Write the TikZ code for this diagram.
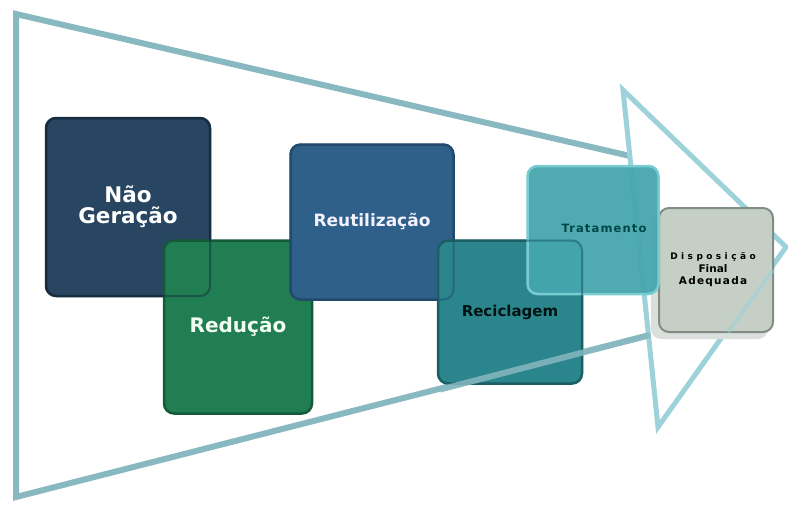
\documentclass[tikz,border=0pt]{standalone}
\usepackage{fontspec}
\setmainfont{DejaVu Sans}
\definecolor{arrowgray}{HTML}{88B8C0}
\definecolor{headcyan}{HTML}{9ED2DA}
\definecolor{ngfill}{HTML}{284661}
\definecolor{ngline}{HTML}{172C3F}
\definecolor{rdfill}{HTML}{207E52}
\definecolor{rdline}{HTML}{175A3A}
\definecolor{rufill}{HTML}{2F6089}
\definecolor{ruline}{HTML}{224A6E}
\definecolor{rcfill}{HTML}{2A868C}
\definecolor{rcline}{HTML}{1B5F65}
\definecolor{trfill}{HTML}{46A6AE}
\definecolor{trline}{HTML}{78CCD2}
\definecolor{dpfill}{HTML}{C5CFC6}
\definecolor{dpline}{HTML}{818C86}
\definecolor{dpshadow}{HTML}{DADFDC}
\begin{document}
\begin{tikzpicture}[x=1pt,y=-1pt,
  outline/.style={draw=arrowgray, line width=6pt, line join=miter},
  headline/.style={draw=headcyan, line width=5pt, line join=miter},
  card/.style={rectangle, rounded corners=10pt, line width=2.5pt,
    outer sep=0pt, align=center, font=\bfseries},
  ghost/.style={rounded corners=10pt, line width=2pt, draw opacity=0.5}
]
\useasboundingbox (0,0) rectangle (788,506);
\fill[white] (0,0) rectangle (788,506);

% large arrow body and arrow head
\draw[outline] (630,156) -- (16,14) -- (16,497) -- (650,335);
\draw[headline] (623,90) -- (786,247) -- (658,427) -- cycle;

% steps
\node[card, fill=ngfill, draw=ngline, text=white, font=\bfseries\fontsize{21.5}{25}\selectfont,
  minimum width=164pt, minimum height=178pt] (naoger) at (128,207) {Não\\[-4pt]Geração};
\node[card, fill=rdfill, draw=rdline, text=green!5, font=\bfseries\fontsize{20}{24}\selectfont,
  minimum width=148pt, minimum height=173pt] (reducao) at (238,327) {Redução};
\draw[ghost, draw=ngline] (naoger.south west) rectangle (naoger.north east);

\node[card, fill=rufill, draw=ruline, text=white!95!blue, font=\bfseries\fontsize{17}{20}\selectfont,
  minimum width=163pt, minimum height=155pt] (reutil) at (372,222) {Reutilização};
\node[card, fill=rcfill, draw=rcline, text=black!85!teal, font=\bfseries\fontsize{15}{18}\selectfont,
  minimum width=144pt, minimum height=143pt] (recicl) at (510,312) {Reciclagem};
\draw[ghost, draw=ruline] (reutil.south west) rectangle (reutil.north east);

% final disposal card with its soft shadow
\fill[dpshadow, rounded corners=10pt] (651,212) rectangle (768,339);
\node[card, fill=dpfill, draw=dpline, text=black, line width=2pt,
  minimum width=114pt, minimum height=124pt] (dispo) at (716,270) {};
\node[font=\bfseries, align=center, text=black] (dispotext) at (713,270)
  {{\fontsize{9}{10}\selectfont\addfontfeature{LetterSpace=38}Disposição}\\[1pt]
   {\fontsize{10.5}{12}\selectfont Final}\\[0pt]
   {\fontsize{10.5}{12}\selectfont\addfontfeature{LetterSpace=12}Adequada}};

\node[card, fill=trfill, draw=trline, fill opacity=0.95, text opacity=1,
  minimum width=131pt, minimum height=128pt] (trat) at (593,230) {};
\node[font=\bfseries\fontsize{11.5}{14}\selectfont\addfontfeature{LetterSpace=10}, text=teal!55!black]
  (trattext) at (604,228) {Tratamento};
\draw[ghost, draw=rcline, draw opacity=0.55] (recicl.south west) rectangle (recicl.north east);

% lower edges of the arrow pass over the cards
\draw[arrowgray, line width=6pt, opacity=0.85] (440,389.6) -- (650,335);
\draw[headcyan, line width=4pt, opacity=0.55] (728,332) -- (773,270);
\end{tikzpicture}
\end{document}
